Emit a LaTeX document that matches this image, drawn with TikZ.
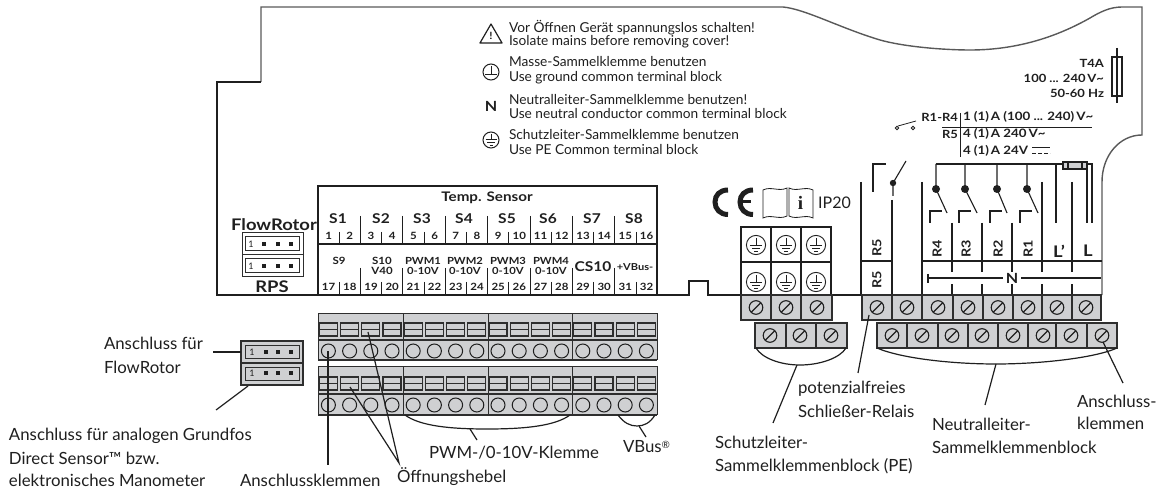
\documentclass[tikz,border=0pt]{standalone}
\usepackage{fontspec}
\setmainfont{Lato}[BoldFeatures={FakeStretch=1.15}]
\newfontfamily\serifb{Liberation Serif}
\newcommand{\fs}[1]{\fontsize{#1}{#1}\selectfont}
\definecolor{ink}{gray}{0.12}
\definecolor{edge}{gray}{0.18}
\definecolor{strip}{HTML}{CFD0D2}
\tikzset{
  lab/.style={anchor=west,inner sep=0pt,outer sep=0pt,text=ink,font=\fs{16.8}},
  note/.style={anchor=west,inner sep=0pt,outer sep=0pt,text=ink,font=\fs{13.7}},
  bb/.style={anchor=center,inner sep=0pt,outer sep=0pt,text=ink,font=\bfseries\fs{#1}},
  bb/.default=10,
  br/.style={anchor=east,inner sep=0pt,outer sep=0pt,text=ink,font=\bfseries\fs{11.3}},
  bl/.style={anchor=west,inner sep=0pt,outer sep=0pt,text=ink,font=\bfseries\fs{11.6}},
  vert/.style={anchor=center,rotate=90,inner sep=0pt,outer sep=0pt,text=ink,font=\bfseries\fs{#1}},
  ln/.style={draw=ink,line width=1.1pt},
  thin line/.style={draw=ink,line width=0.8pt},
  leader/.style={draw=ink,line width=1.2pt},
  cell/.style={draw=edge,line width=1.7pt,fill=strip},
  pesym/.pic={
    \draw[draw=ink,line width=0.9pt] (0,0) circle[radius=9.6pt];
    \draw[draw=ink,line width=0.9pt] (0,-7)--(0,0) (-6,0)--(6,0) (-4,3)--(4,3) (-1.8,6)--(1.8,6);
  },
  screw/.pic={
    \draw[draw=ink,line width=1.1pt] (0,0) circle[radius=6.8pt];
    \draw[draw=ink,line width=1.1pt] (-4.8,4.8)--(4.8,-4.8);
  }
}
% strip of 16 terminals: top, middle, bottom, lever top, lever bottom, circle y
\newcommand{\terminalstrip}[6]{
  \fill[strip] (318,#1) rectangle (657,#3);
  \draw[draw=edge,line width=0.7pt] (318,#3)--(318,#1)--(657,#1)--(657,#3);
  \draw[draw=edge,line width=1.6pt] (318,#2)--(657,#2) (318,#3)--(657,#3);
  \foreach \vx in {318,403,488,572,657} \draw[draw=edge,line width=0.9pt] (\vx,#1)--(\vx,#3);
  \foreach \ci in {0,...,15}{
    \pgfmathsetmacro{\cx}{328.4+21.2*\ci}
    \draw[draw=edge,line width=1.1pt] (\cx-9,#4) rectangle (\cx+9,#5);
    \draw[draw=edge,line width=1.1pt] (\cx-9,{(#4+#5)/2})--(\cx+9,{(#4+#5)/2});
    \draw[draw=ink,line width=1pt] (\cx,#6) circle[radius=7pt];
  }
}
\begin{document}
\begin{tikzpicture}[x=1pt,y=-1pt]
\useasboundingbox (0,0) rectangle (1157,489);
% housing outline
\draw[draw=black!65,line width=1.4pt] (261,82)--(261,7)--(783,7)
  .. controls (805,9) and (840,28) .. (880,40)
  .. controls (905,47) and (945,50) .. (970,50)
  .. controls (1020,50) and (1060,35) .. (1090,18)
  .. controls (1100,12) and (1110,7) .. (1122,7)
  --(1142,7)--(1142,135)
  .. controls (1120,135) and (1102,155) .. (1102,182)--(1102,295);
\draw[draw=ink,line width=1.1pt] (261,82)--(217,82)--(217,295)--(689,295)--(689,281)--(708,281)--(708,295)--(1102,295);
% warning notes
\draw[draw=ink,line width=1.2pt,line join=round] (480,43)--(491,24)--(502,43)--cycle;
\node[anchor=center,inner sep=0pt,text=ink,font=\bfseries\fs{10}] (warnmark) at (491,36) {!};
\draw[draw=ink,line width=1pt] (491,72) circle[radius=8pt];
\draw[draw=ink,line width=1pt] (491,66)--(491,75) (485,75)--(497,75);
\node[bb=14] (nsym) at (491,106) {N};
\draw[draw=ink,line width=1pt] (491,140) circle[radius=8pt];
\draw[draw=ink,line width=0.9pt] (491,134)--(491,139) (485.5,139)--(496.5,139) (487,142)--(495,142) (489.5,145)--(492.5,145);
\node[note] (n1) at (509,28) {Vor Öffnen Gerät spannungslos schalten!};
\node[note] (n2) at (509,42) {Isolate mains before removing cover!};
\node[note] (n3) at (509,62) {Masse-Sammelklemme benutzen};
\node[note] (n4) at (509,78) {Use ground common terminal block};
\node[note] (n5) at (509,100) {Neutralleiter-Sammelklemme benutzen!};
\node[note] (n6) at (509,114) {Use neutral conductor common terminal block};
\node[note] (n7) at (509,135) {Schutzleiter-Sammelklemme benutzen};
\node[note] (n8) at (509,150) {Use PE Common terminal block};
% fuse data
\node[br] (f1) at (1104,63) {T4A};
\node[br] (f2) at (1104,78) {100 ... 240\,V\textasciitilde};
\node[br] (f3) at (1104,93) {50-60 Hz};
\draw[ln] (1112,57) rectangle (1122,96);
\draw[ln] (1117,48)--(1117,103);
% relay data
\draw[thin line] (897,128) circle[radius=1.8pt] (913,128) circle[radius=1.8pt];
\draw[thin line] (898,126)--(916,121);
\node[br] (r1) at (958,117) {R1-R4};
\node[br] (r2) at (958,134) {R5};
\node[bl] (r3) at (963,117) {1 (1)\,A (100 ... 240)\,V\textasciitilde};
\node[bl] (r4) at (963,134) {4 (1)\,A 240\,V\textasciitilde};
\node[bl] (r5) at (963,151) {4 (1)\,A 24V};
\draw[thin line] (942,127)--(1092,127) (960,113)--(960,157);
\draw[thin line] (1032,147.5)--(1050,147.5);
\draw[thin line,dash pattern=on 4pt off 2pt] (1032,153)--(1050,153);
% FlowRotor / RPS connector in housing
\node[bb=16] (flow) at (274,225) {FlowRotor};
\node[bb=16] (rps) at (272,287) {RPS};
\draw[draw=edge,line width=1pt] (242,233) rectangle (303,277) (242,255)--(303,255);
\draw[draw=edge,line width=1pt] (245,237) rectangle (299,251) (245,259) rectangle (299,273);
\foreach \hy/\hn in {244/a,266/b}{
  \node[anchor=center,inner sep=0pt,text=ink,font=\fs{9}] (one\hn) at (251,\hy) {1};
  \foreach \hx in {264,278,291} \fill[ink] (\hx-2,\hy-2) rectangle (\hx+2,\hy+2);
}
% sensor table
\draw[ln] (318,295)--(318,186)--(657,186)--(657,295) (318,244)--(657,244);
\node[bb=13.2] (temp) at (487,198) {Temp. Sensor};
\foreach \si/\sx in {1/338,2/381,3/422,4/464,5/507,6/548,7/592,8/634}
  \node[bb=13.5] (s\si) at (\sx,219) {S\si};
\foreach \ci in {1,...,16}{
  \pgfmathsetmacro{\cx}{318+21.2*(\ci-0.5)}
  \pgfmathtruncatemacro{\cb}{\ci+16}
  \node[bb=10] (t\ci) at (\cx,236) {\ci};
  \node[bb=10] (t\cb) at (\cx,287) {\cb};
}
\foreach \ti in {1,...,8}{
  \pgfmathsetmacro{\tx}{318+42.4*(\ti-0.5)}
  \draw[thin line] (\tx,232)--(\tx,243) (\tx,282)--(\tx,295);
}
\foreach \ti in {1,...,7}{
  \pgfmathsetmacro{\tx}{318+42.4*\ti}
  \draw[thin line] (\tx,216)--(\tx,243) (\tx,268)--(\tx,295);
}
\node[bb=10] (s9) at (339,261) {S9};
\node[bb=10] (s10) at (382,261) {S10};
\node[bb=10] (v40) at (382,271) {V40};
\foreach \pi/\px in {1/423,2/465,3/508,4/551}{
  \node[bb=9.8] (pwm\pi) at (\px,261) {PWM\pi};
  \node[bb=9.8] (volt\pi) at (\px,271) {0-10V};
}
\node[bb=13.5] (cs) at (593,267) {CS10};
\node[bb=9.6] (vbusx) at (635,267) {+VBus-};
% CE, book, IP20
\draw[draw=ink,line width=5pt] (728,190) .. controls (720,190) and (715,195) .. (715,202) .. controls (715,209) and (720,214.5) .. (728,214.5);
\draw[draw=ink,line width=5pt] (753,190) .. controls (745,190) and (740,195) .. (740,202) .. controls (740,209) and (745,214.5) .. (753,214.5);
\draw[draw=ink,line width=3pt] (741,202)--(751,202);
\draw[thin line,fill=white] (763,190) .. controls (771,186) and (779,192) .. (787,188) -- (787,216) .. controls (779,220) and (771,214) .. (763,218)--cycle;
\draw[thin line,fill=white] (789,188) .. controls (797,192) and (805,186) .. (813,190) -- (813,218) .. controls (805,214) and (797,220) .. (789,216)--cycle;
\node[anchor=center,inner sep=0pt,text=ink,font=\serifb\bfseries\fs{19}] (info) at (800.5,203) {i};
\node[anchor=west,inner sep=0pt,text=ink,font=\fs{16}] (ip) at (818,203) {IP20};
% PE table
\draw[ln] (741,295)--(741,227)--(831,227)--(831,295) (771,227)--(771,295) (801,227)--(801,295) (741,262)--(831,262);
\foreach \px in {756,786,816}{
  \pic at (\px,245) {pesym};
  \pic at (\px,282) {pesym};
}
% relay panel lines
\draw[ln] (861,182)--(861,295) (892,200)--(892,295) (861,261)--(892,261);
\node[vert=12.5] (r5a) at (877,248) {R5};
\node[vert=12.5] (r5b) at (877,280) {R5};
\draw[ln] (873,192)--(873,164)--(886,164);
\draw[ln] (893,196)--(893,183)--(906,161);
\fill[ink] (893,183) circle[radius=3.2pt];
\draw[ln] (922,182)--(922,295) (922,261)--(1102,261);
\draw[ln] (936,164)--(1092,164)--(1092,223);
\draw[ln] (1087,164)--(1087,223) (1056,164)--(1056,223);
\fill[strip] (1063,162) rectangle (1087,169);
\draw[ln] (1063,162) rectangle (1087,169) (1068,162)--(1068,169) (1082,162)--(1082,169);
\foreach \dx/\ex/\fx/\rn in {936/947/930/4,965/977/959/3,997/1007/990/2,1027/1038/1020/1}{
  \draw[ln] (\dx,164)--(\dx,189)--(\ex,213);
  \fill[ink] (\dx,189) circle[radius=4pt];
  \draw[ln] (\fx,223)--(\fx,211)--(\fx+12,211);
  \node[vert=12.5] (relay\rn) at (\dx+1,249) {R\rn};
}
\foreach \vx in {952,982,1012} \draw[ln] (\vx,223)--(\vx,272) (\vx,284)--(\vx,295);
\foreach \vx in {1042,1072} \draw[ln] (\vx,182)--(\vx,272) (\vx,284)--(\vx,295);
\node[bb=16] (lp) at (1059,251) {L'};
\node[bb=16] (ll) at (1088,251) {L};
\node[bb=14] (nbus) at (1012,278) {N};
\draw[ln] (928,274)--(928,283) (928,278)--(1003,278) (1021,278)--(1101,278);
% PE terminal blocks
\foreach \ax/\bx in {741/771,771/801,801/832} \draw[cell] (\ax,295) rectangle (\bx,320);
\foreach \ax/\bx in {755/786,786/816,816/847} \draw[cell] (\ax,323) rectangle (\bx,348);
\foreach \px in {756,786,817} \pic at (\px,307.5) {screw};
\foreach \px in {770,800,831} \pic at (\px,335.5) {screw};
% relay terminal blocks
\foreach \ax/\bx in {862/892,892/922,922/953,953/983,983/1013,1013/1042,1042/1072,1072/1101}
  \draw[cell] (\ax,295) rectangle (\bx,320);
\foreach \ax/\bx in {877/907,907/938,938/968,968/998,998/1028,1028/1056,1056/1087,1087/1117}
  \draw[cell] (\ax,323) rectangle (\bx,348);
\foreach \px in {877,907,938,968,998,1028,1057,1086} \pic at (\px,307.5) {screw};
\foreach \px in {892,922,952,982,1013,1043,1071,1102} \pic at (\px,335.5) {screw};
% sensor terminal strips
\terminalstrip{313}{340}{360}{323}{336}{351}
\terminalstrip{366}{394}{415}{377}{390}{405}
% external connectors
\fill[strip] (241,341) rectangle (303,385);
\draw[draw=edge,line width=1.6pt] (241,341) rectangle (303,385) (241,363)--(303,363);
\draw[draw=edge,line width=0.9pt] (245,345) rectangle (299,358) (245,367) rectangle (299,380);
\foreach \hy/\hn in {352/c,373/d}{
  \node[anchor=center,inner sep=0pt,text=ink,font=\fs{9}] (one\hn) at (252,\hy) {1};
  \foreach \hx in {266,278,291} \fill[ink] (\hx-2,\hy-2) rectangle (\hx+2,\hy+2);
}
% labels
\node[lab] (aflow) at (104,343) {Anschluss für};
\node[lab] (aflowb) at (104,367) {FlowRotor};
\node[lab] (a1) at (9,436) {Anschluss für analogen Grundfos};
\node[lab] (a2) at (9,458) {Direct Sensor™ bzw.};
\node[lab] (a3) at (9,480) {elektronisches Manometer};
\node[lab] (aklem) at (240,480) {Anschlussklemmen};
\node[lab] (hebel) at (397,477) {Öffnungshebel};
\node[lab] (pwm) at (429,453) {PWM-/0-10V-Klemme};
\node[lab] (vbus) at (623,447) {VBus\raisebox{4pt}{\fs{10}®}};
\node[lab] (sch1) at (715,442) {Schutzleiter-};
\node[lab] (sch2) at (715,466) {Sammelklemmenblock (PE)};
\node[lab] (pot1) at (798,389) {potenzialfreies};
\node[lab] (pot2) at (798,411) {Schließer-Relais};
\node[lab] (neu1) at (932,424) {Neutralleiter-};
\node[lab] (neu2) at (932,447) {Sammelklemmenblock};
\node[lab] (ank1) at (1077,401) {Anschluss-};
\node[lab] (ank2) at (1077,423) {klemmen};
% leader anchor points
\coordinate (la1) at (213,352); \coordinate (la2) at (241,352);
\coordinate (lb1) at (248,386); \coordinate (lb2) at (216,410);
\coordinate (lc1) at (328,351); \coordinate (lc2) at (328,465);
\coordinate (ld0) at (399,463); \coordinate (ld1) at (368,332); \coordinate (ld2) at (350,387);
\coordinate (le1) at (470,429); \coordinate (le2) at (477,440);
\coordinate (lf1) at (639,426); \coordinate (lf2) at (646,437);
\coordinate (lg1) at (797,365); \coordinate (lg2) at (773,423);
\coordinate (lh1) at (869,315); \coordinate (lh2) at (858,373);
\coordinate (li1) at (996,364); \coordinate (li2) at (985,405);
\coordinate (lj1) at (1103,342); \coordinate (lj2) at (1123,383);
\draw[leader] (la1)--(la2);
\draw[leader] (lb1)--(lb2);
\draw[leader] (lc1)--(lc2);
\draw[leader] (ld1)--(ld0)--(ld2);
\draw[leader] (le1)--(le2);
\draw[leader] (lf1)--(lf2);
\draw[leader] (lg1)--(lg2);
\draw[leader] (lh1)--(lh2);
\draw[leader] (li1)--(li2);
\draw[leader] (lj1)--(lj2);
% brackets
\draw[leader] (405,415) .. controls (420,426) and (450,429) .. (487,429) .. controls (525,429) and (555,426) .. (570,415);
\draw[leader] (618,415) .. controls (624,423) and (630,426) .. (637,426) .. controls (644,426) and (650,423) .. (655,415);
\draw[leader] (756,348) .. controls (762,358) and (780,365) .. (800,365) .. controls (820,365) and (840,358) .. (846,348);
\draw[leader] (877,348) .. controls (900,358) and (950,364) .. (996,364) .. controls (1040,364) and (1095,358) .. (1117,348);
\end{tikzpicture}
\end{document}
